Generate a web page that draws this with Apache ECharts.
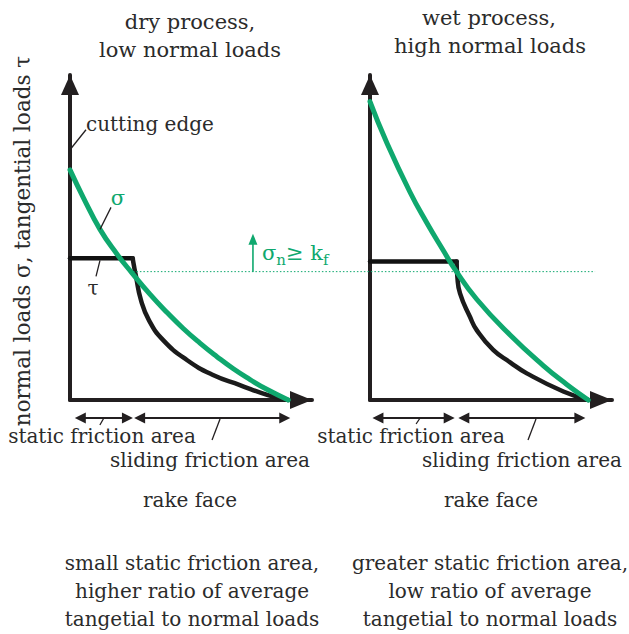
<!DOCTYPE html>
<html>
<head>
<meta charset="utf-8">
<script src="https://cdn.jsdelivr.net/npm/echarts@6/dist/echarts.min.js"></script>
<style>
  html, body { margin: 0; padding: 0; background: #ffffff; }
  #chart { width: 629px; height: 634px; }
</style>
</head>
<body>
<div id="chart"></div>
<script>
// Load distributions along the rake face (x: position from the cutting edge, y: load level)
// Dry process, low normal loads
const dryNormalX = [0, 5.5, 12.4, 19.3, 25.5, 33.1, 40.0, 46.8, 53.7, 60.6, 67.5, 74.4, 81.3, 90.2];
const dryNormalY = [70.8, 62.3, 52.5, 45.0, 39.2, 32.5, 27.0, 22.0, 17.5, 13.4, 9.6, 6.3, 3.3, 0];
const dryTangentialPlateauX = [0, 25.9];
const dryTangentialPlateauY = [43.6, 43.6];
const dryTangentialDecayX = [25.9, 26.5, 27.3, 29.3, 32.6, 38.4, 48.3, 59.1, 70.2, 81.8, 90.1];
const dryTangentialDecayY = [43.6, 41.0, 37.9, 30.8, 24.6, 18.5, 12.3, 7.7, 4.6, 1.5, 0];

// Wet process, high normal loads
const wetNormalX = [0, 6.9, 16.5, 23.4, 30.3, 35.1, 44.1, 57.9, 71.6, 81.3, 90.2];
const wetNormalY = [91.8, 79.2, 64.0, 54.6, 46.0, 40.2, 31.0, 20.0, 10.6, 4.8, 0];
const wetTangentialPlateauX = [0, 35.8];
const wetTangentialPlateauY = [42.6, 42.6];
const wetTangentialDecayX = [35.8, 36.1, 37.2, 41.3, 44.1, 50.9, 57.9, 64.8, 79.9, 90.2];
const wetTangentialDecayY = [42.6, 37.9, 32.8, 25.6, 21.5, 15.4, 11.6, 8.2, 2.6, 0];

// Flow stress threshold k_f and extent of the dotted threshold line
const flowStressLevel = 39.5;
const thresholdStartDry = 26.0;
const thresholdEndWet = 93.0;

// Friction zones along the rake face [start, end]
const dryStaticZone = [2, 26];
const drySlidingZone = [26.5, 91];
const wetStaticZone = [1, 35];
const wetSlidingZone = [36.5, 89];

const GREEN = '#0fa86e';
const INK = '#231f20';
const TEXT = '#2b2b2b';
const FONT = '"DejaVu Serif", "Liberation Serif", serif';
const FS = 20;

function zip(xs, ys) { return xs.map((x, i) => [x, ys[i]]); }

const chart = echarts.init(document.getElementById('chart'), null, { renderer: 'svg' });

function axisPair(gridIndex) {
  const line = { color: INK, width: 4 };
  return {
    x: {
      gridIndex, type: 'value', min: 0, max: 100,
      axisLine: { show: true, onZero: true, symbol: ['none', 'triangle'], symbolSize: [18, 22], symbolOffset: [0, -11], lineStyle: line },
      axisTick: { show: false }, axisLabel: { show: false }, splitLine: { show: false }
    },
    y: {
      gridIndex, type: 'value', min: 0, max: 100,
      axisLine: { show: true, onZero: true, symbol: ['none', 'triangle'], symbolSize: [18, 20], symbolOffset: [0, -10], lineStyle: line },
      axisTick: { show: false }, axisLabel: { show: false }, splitLine: { show: false }
    }
  };
}
const a0 = axisPair(0), a1 = axisPair(1);

function curve(name, idx, xs, ys, color, width, smooth, z) {
  return {
    name, type: 'line', xAxisIndex: idx, yAxisIndex: idx,
    data: zip(xs, ys), smooth, showSymbol: false, clip: false, z,
    lineStyle: { color, width, cap: 'round', join: 'round' },
    silent: true, animation: false
  };
}

chart.setOption({
  animation: false,
  grid: [
    { left: 70, top: 75, width: 242, height: 325 },
    { left: 370, top: 75, width: 242, height: 325 }
  ],
  xAxis: [a0.x, a1.x],
  yAxis: [a0.y, a1.y],
  series: [
    curve('τ dry plateau', 0, dryTangentialPlateauX, dryTangentialPlateauY, '#111', 4.5, false, 2),
    curve('τ dry', 0, dryTangentialDecayX, dryTangentialDecayY, '#1b1b1b', 4.5, 0.5, 2),
    curve('σ dry', 0, dryNormalX, dryNormalY, GREEN, 5, 0.5, 3),
    curve('τ wet plateau', 1, wetTangentialPlateauX, wetTangentialPlateauY, '#111', 4.5, false, 2),
    curve('τ wet', 1, wetTangentialDecayX, wetTangentialDecayY, '#1b1b1b', 4.5, 0.5, 2),
    curve('σ wet', 1, wetNormalX, wetNormalY, GREEN, 5, 0.5, 3)
  ]
});

// Annotation layer, positioned through the axes' own scales
function px(gi, pt) { return chart.convertToPixel({ gridIndex: gi }, pt); }

function text(str, x, y, opts) {
  return {
    type: 'text', x, y, silent: true, z: 20,
    style: Object.assign({ text: str, fill: TEXT, font: FS + 'px ' + FONT, align: 'center', verticalAlign: 'middle' }, opts || {})
  };
}
function seg(p1, p2, color, w) {
  return { type: 'line', silent: true, z: 15, shape: { x1: p1[0], y1: p1[1], x2: p2[0], y2: p2[1] }, style: { stroke: color || INK, lineWidth: w || 1.3 } };
}
function head(tip, dir, len, half, color) {
  // filled triangle with its tip at `tip`, pointing along unit vector dir
  const bx = tip[0] - dir[0] * len, by = tip[1] - dir[1] * len;
  const nx = -dir[1], ny = dir[0];
  return { type: 'polygon', silent: true, z: 16,
    shape: { points: [tip, [bx + nx * half, by + ny * half], [bx - nx * half, by - ny * half]] },
    style: { fill: color || INK } };
}
function doubleArrow(gi, zone, yPix) {
  const p1 = px(gi, [zone[0], 0]), p2 = px(gi, [zone[1], 0]);
  const a = [p1[0], yPix], b = [p2[0], yPix];
  return [
    seg([a[0] + 6, yPix], [b[0] - 6, yPix], INK, 2),
    head(a, [-1, 0], 11, 5.5),
    head(b, [1, 0], 11, 5.5)
  ];
}

const g = [];
const arrowY = 418;
// friction zones under each rake face
g.push(...doubleArrow(0, dryStaticZone, arrowY), ...doubleArrow(0, drySlidingZone, arrowY));
g.push(...doubleArrow(1, wetStaticZone, arrowY), ...doubleArrow(1, wetSlidingZone, arrowY));

// dotted flow stress line across both panels
const th1 = px(0, [thresholdStartDry, flowStressLevel]);
const th2 = px(1, [thresholdEndWet, flowStressLevel]);
g.push({ type: 'line', silent: true, z: 4, shape: { x1: th1[0], y1: th1[1], x2: th2[0], y2: th2[1] },
  style: { stroke: GREEN, lineWidth: 1, lineDash: [1.5, 2] } });

// σ_n ≥ k_f marker
const kfBase = px(0, [75.6, flowStressLevel]);
g.push(seg([kfBase[0], kfBase[1]], [kfBase[0], kfBase[1] - 30], GREEN, 1.6));
g.push(head([kfBase[0], kfBase[1] - 38], [0, -1], 11, 4.5, GREEN));
g.push({
  type: 'text', silent: true, z: 20, x: kfBase[0] + 9, y: kfBase[1] - 17,
  style: {
    text: '{m|σ}{s|n}{m|≥ k}{s|f}', align: 'left', verticalAlign: 'middle',
    rich: {
      m: { fill: GREEN, font: '21px ' + FONT, lineHeight: 24, verticalAlign: 'top' },
      s: { fill: GREEN, font: '15px ' + FONT, lineHeight: 18, padding: [10, 0, 0, 0], verticalAlign: 'top' }
    }
  }
});

// cutting edge callout
const ce = px(0, [0, 77]);
g.push(seg(ce, [ce[0] + 16, ce[1] - 20], INK, 1.3));
g.push(text('cutting edge', ce[0] + 16, ce[1] - 26, { align: 'left' }));

// σ callout (dry)
const sg = px(0, [12.4, 52.5]);
g.push(seg(sg, [sg[0] + 11, sg[1] - 22], INK, 1.3));
g.push(text('σ', sg[0] + 18, sg[1] - 31, { fill: GREEN, font: '21px ' + FONT }));

// τ callout (dry)
const tg = px(0, [12.4, 43.6]);
g.push(seg([tg[0], tg[1] + 2], [tg[0] - 4, tg[1] + 18], INK, 1.3));
g.push(text('τ', tg[0] - 7, tg[1] + 30));

// zone leaders
function leader(gi, xv, dx1, dy1, dx2, dy2) {
  const p = px(gi, [xv, 0]);
  return seg([p[0] + dx1, arrowY + dy1], [p[0] + dx2, arrowY + dy2], INK, 1.3);
}
g.push(leader(0, 14.0, 0, 0, -4, 7));
g.push(leader(0, 62.0, 0, 1, -8, 22));
g.push(leader(1, 20.7, 0, 0, -4, 6));
g.push(leader(1, 68.6, 0, 1, -8, 22));

// zone labels
g.push(text('static friction area', 102, 436));
g.push(text('sliding friction area', 210, 460));
g.push(text('static friction area', 411, 436));
g.push(text('sliding friction area', 522, 460));
g.push(text('rake face', 190, 500));
g.push(text('rake face', 491, 500));

// panel titles
const TF = { font: '21px ' + FONT };
g.push(text('dry process,', 190, 22, TF));
g.push(text('low normal loads', 190, 50, TF));
g.push(text('wet process,', 489, 18, TF));
g.push(text('high normal loads', 490, 46, TF));

// conclusions
g.push(text('small static friction area,', 192, 563));
g.push(text('higher ratio of average', 192, 591));
g.push(text('tangetial to normal loads', 192, 619));
g.push(text('greater static friction area,', 490, 563));
g.push(text('low ratio of average', 490, 591));
g.push(text('tangetial to normal loads', 490, 619));

// vertical axis title
g.push({
  type: 'text', silent: true, z: 20, x: 22, y: 241, rotation: Math.PI / 2,
  style: { text: 'normal loads σ, tangential loads τ', fill: TEXT, font: '21.5px ' + FONT, align: 'center', verticalAlign: 'middle' }
});

chart.setOption({ graphic: g });
</script>
</body>
</html>
